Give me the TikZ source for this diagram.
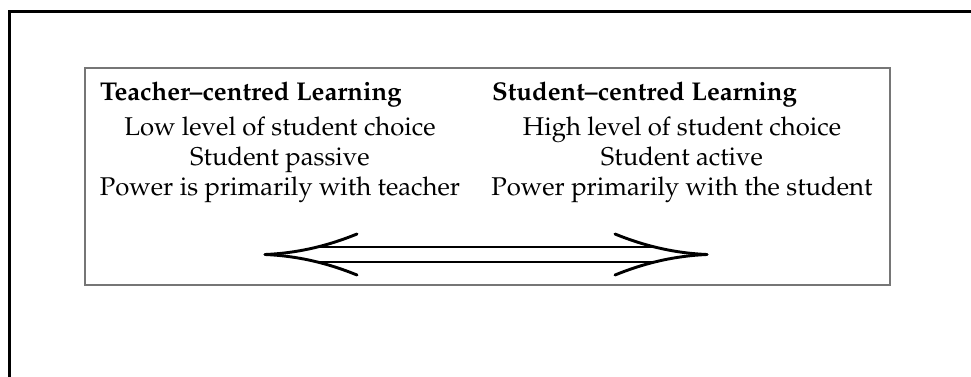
\documentclass[tikz,border=0pt]{standalone}
\usepackage[T1]{fontenc}
\usepackage{mathpazo}
\definecolor{boxgray}{RGB}{118,118,118}
\begin{document}
\begin{tikzpicture}[x=1pt,y=-1pt,
  txt/.style={font=\fontsize{25.7}{30}\selectfont, inner sep=0pt, anchor=base},
  head/.style={font=\fontsize{25.7}{30}\selectfont\bfseries, inner sep=0pt, anchor=base west},
  frame/.style={draw=black, line width=3pt},
  panelbox/.style={draw=boxgray, line width=2pt, minimum width=805pt, minimum height=217pt, inner sep=0pt, anchor=north west},
  arr/.style={line width=2.9pt, line cap=round}]
\useasboundingbox (0,0) rectangle (971,376);
% outer frame (left and top only)
\coordinate (fb) at (9,377);
\coordinate (fc) at (9,11);
\coordinate (fr) at (972,11);
\draw[frame] (fb) -- (fc) -- (fr);
% panel
\node[panelbox] (panel) at (84,67) {};
% headings
\node[head] (h1) at (100,100) {Teacher--centred Learning};
\node[head] (h2) at (492,100) {Student--centred Learning};
% left column
\node[txt] (l1) at (280,135) {Low level of student choice};
\node[txt] (l2) at (280,165) {Student passive};
\node[txt] (l3) at (280,195) {Power is primarily with teacher};
% right column
\node[txt] (r1) at (682,135) {High level of student choice};
\node[txt] (r2) at (682,165) {Student active};
\node[txt] (r3) at (682,195) {Power primarily with the student};
% double arrow
\coordinate (tl) at (265,254.5);
\coordinate (tr) at (707,254.5);
\coordinate (ul) at (317,247);
\coordinate (ur) at (655,247);
\coordinate (dl) at (317,262);
\coordinate (dr) at (655,262);
\coordinate (blu) at (357,234);
\coordinate (bld) at (357,275);
\coordinate (bru) at (615,234);
\coordinate (brd) at (615,275);
\draw[arr] (ul) -- (ur);
\draw[arr] (dl) -- (dr);
\draw[arr] (tl) .. controls (300,253) and (330,245) .. (blu);
\draw[arr] (tl) .. controls (300,256) and (330,264) .. (bld);
\draw[arr] (tr) .. controls (672,253) and (642,245) .. (bru);
\draw[arr] (tr) .. controls (672,256) and (642,264) .. (brd);
\end{tikzpicture}
\end{document}
